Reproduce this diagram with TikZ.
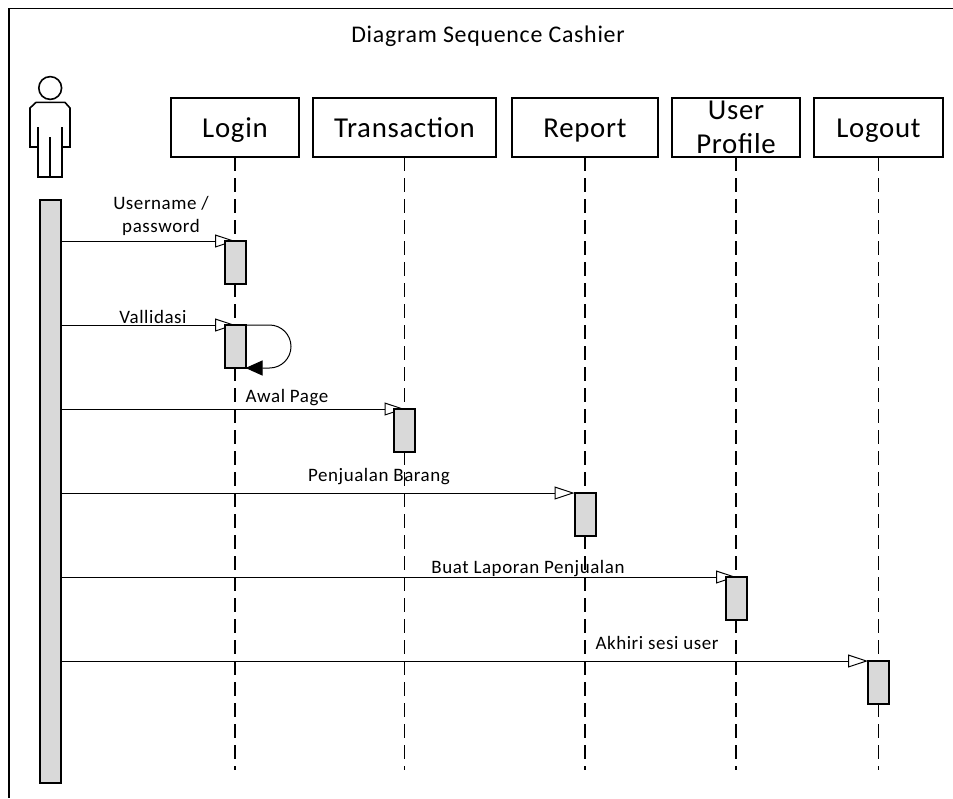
\documentclass[tikz,border=0pt]{standalone}
\usepackage{fontspec}
\setmainfont{Carlito}
\usetikzlibrary{positioning}
\usetikzlibrary{arrows.meta}
\usetikzlibrary{backgrounds}

\begin{document}
\begin{tikzpicture}
[
x=1mm, y=1mm,
obj/.style={rectangle, draw, line width=0.45mm, minimum height=14.75mm, outer sep=0pt, align=center, inner sep=0pt, text height=6mm, text depth=1.2mm, font=\fontsize{20.5}{24}\selectfont\addfontfeature{LetterSpace=2.5}},
act/.style={rectangle, draw, line width=0.5mm, fill=black!15, minimum width=5.25mm, minimum height=10.75mm, outer sep=0pt, inner sep=0pt},
msg/.style={line width=0.25mm, -{Triangle[open, fill=white, length=5mm, width=3.25mm, line width=0.25mm]}},
lifeline/.style={line width=0.45mm, dash pattern=on 3.5mm off 1.75mm},
body/.style={line width=0.4mm},
text-a/.style={black, inner sep=0pt, align=center, font=\fontsize{13.5}{16.5}\selectfont\addfontfeature{LetterSpace=3}},
]
\useasboundingbox (0,0) rectangle (238.25,-199.5);
\node (title) [text-a, font=\fontsize{17}{20}\selectfont\addfontfeature{LetterSpace=3}] at (122,-9) {Diagram Sequence Cashier};
\node (login)  [obj, minimum width=32mm] at (58.75,-31.875) {Login};
\node (trans)  [obj, right = 03.50mm of login, minimum width=45.75mm] {Transaction};
\node (report) [obj, right = 04.00mm of trans, minimum width=36.50mm] {Report};
\node (userp)  [obj, right = 03.50mm of report, minimum width=32mm, text height=13.5mm, text depth=0.7mm] {User\\Profile};
\node (logout) [obj, right = 03.50mm of userp, minimum width=32.25mm] {Logout};
\node (bar)  [act, minimum height=145.75mm] at (12.625,-122.875) {};
\node (act1) [act, below = 21.00mm of login] {};
\node (act2) [act, below = 10.25mm of act1] {};
\node (act3) [act, below = 63.00mm of trans] {};
\node (act4) [act, below = 84.00mm of report] {};
\node (act5) [act, below = 105.00mm of userp] {};
\node (act6) [act, below = 126.00mm of logout] {};
\coordinate (lineend) at (0,-192.5);
\node (msg1) [text-a] at (40.25,-54) {Username /\\password};
\node (msg2) [text-a] at (38.25,-79.25) {Vallidasi};
\node (msg3) [text-a] at (71.75,-99.5) {Awal Page};
\node (msg4) [text-a] at (94.75,-119.25) {Penjualan Barang};
\node (msg5) [text-a] at (132,-142.25) {Buat Laporan Penjualan};
\node (msg6) [text-a] at (164.25,-160.75) {Akhiri sesi user};
\begin{scope}[on background layer]
\foreach \n in {login,trans,report,userp,logout}
  \draw [lifeline] (\n.south) -- (\n.south |- lineend);
\draw [msg] (bar.east |- act1.north) -- (act1.north);
\draw [msg] (bar.east |- act2.north) -- (act2.north);
\draw [msg] (bar.east |- act3.north) -- (act3.north);
\draw [msg] (bar.east |- act4.north) -- (act4.north west);
\draw [msg] (bar.east |- act5.north) -- (act5.north);
\draw [msg] (bar.east |- act6.north) -- (act6.north west);
\end{scope}
\draw [line width=0.25mm, -{Triangle[length=4.25mm, width=3.75mm]}] (act2.north east) -- ++(6,0) arc [start angle=90, end angle=-90, radius=5.375] -- (act2.south east);
% frame
\draw [line width=0.45mm] (238.25,-2.1) -| (2.25,-199.5);
% actor
\draw [body] (12.55,-22) circle (2.85);
\draw [body] (9.5,-31.75) -- (9.5,-44.25) -- (15.5,-44.25) -- (15.5,-31.75);
\draw [body] (9.5,-36.75) -- (7.5,-36.75) -- (7.5,-27) -- (9,-25.6) -- (16.25,-25.6) -- (17.5,-27) -- (17.5,-36.75) -- (15.5,-36.75);
\draw [body] (12.5,-34.25) -- (12.5,-44.25);
\end{tikzpicture}
\end{document}
